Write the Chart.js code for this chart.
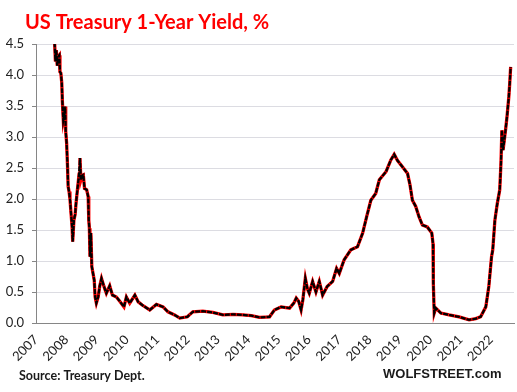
<!DOCTYPE html>
<html>
<head>
<meta charset="utf-8">
<script src="https://cdn.jsdelivr.net/npm/chart.js@4"></script>
<style>
html, body { margin: 0; padding: 0; background: #fff; }
</style>
</head>
<body>
<canvas id="chart" width="517" height="392"></canvas>
<script>
// 1-year treasury yield (x = decimal year)
const years = [
  2007.00, 2007.30, 2007.58, 2007.62, 2007.64, 2007.67, 2007.70, 2007.74, 2007.77, 2007.79,
  2007.82, 2007.85, 2007.87, 2007.90, 2007.93, 2007.96, 2007.98, 2008.01, 2008.04, 2008.06,
  2008.09, 2008.12, 2008.15, 2008.19, 2008.21, 2008.25, 2008.29, 2008.32, 2008.37, 2008.42,
  2008.45, 2008.48, 2008.52, 2008.56, 2008.60, 2008.67, 2008.72, 2008.74, 2008.76, 2008.78,
  2008.81, 2008.84, 2008.92, 2008.95, 2008.99, 2009.05, 2009.10, 2009.16, 2009.24, 2009.32,
  2009.43, 2009.52, 2009.65, 2009.78, 2009.90, 2009.98, 2010.09, 2010.26, 2010.37, 2010.50,
  2010.75, 2010.97, 2011.19, 2011.35, 2011.57, 2011.74, 2011.99, 2012.17, 2012.50, 2012.83,
  2013.16, 2013.50, 2013.82, 2014.10, 2014.37, 2014.70, 2014.86, 2015.08, 2015.36, 2015.50,
  2015.58, 2015.66, 2015.74, 2015.80, 2015.88, 2015.95, 2016.01, 2016.12, 2016.23, 2016.34,
  2016.45, 2016.60, 2016.78, 2016.91, 2017.00, 2017.16, 2017.38, 2017.60, 2017.77, 2017.90,
  2018.04, 2018.20, 2018.32, 2018.54, 2018.70, 2018.81, 2018.92, 2019.08, 2019.25, 2019.33,
  2019.41, 2019.52, 2019.63, 2019.74, 2019.90, 2020.05, 2020.09, 2020.10, 2020.13, 2020.18,
  2020.35, 2020.62, 2020.95, 2021.28, 2021.50, 2021.66, 2021.83, 2021.93, 2022.02, 2022.06,
  2022.13, 2022.21, 2022.29, 2022.33, 2022.36, 2022.40, 2022.48, 2022.53, 2022.59, 2022.62,
  2022.65
];
const yields = [
  5.00, 4.95, 4.90, 4.45, 4.22, 4.40, 4.15, 4.30, 4.32, 4.05,
  4.03, 3.87, 3.57, 3.27, 3.35, 3.49, 3.09, 2.90, 2.52, 2.20,
  2.12, 2.00, 1.80, 1.55, 1.31, 1.66, 1.75, 1.93, 2.17, 2.40,
  2.66, 2.31, 2.38, 2.39, 2.17, 2.15, 2.04, 1.66, 1.53, 1.07,
  1.45, 0.91, 0.69, 0.42, 0.32, 0.42, 0.59, 0.72, 0.59, 0.48,
  0.60, 0.45, 0.42, 0.34, 0.26, 0.42, 0.32, 0.45, 0.34, 0.29,
  0.21, 0.30, 0.26, 0.18, 0.13, 0.08, 0.10, 0.18, 0.19, 0.17,
  0.13, 0.14, 0.13, 0.12, 0.09, 0.10, 0.21, 0.26, 0.24, 0.32,
  0.40, 0.35, 0.21, 0.38, 0.72, 0.55, 0.48, 0.67, 0.50, 0.67,
  0.45, 0.59, 0.67, 0.88, 0.80, 1.02, 1.18, 1.23, 1.45, 1.71,
  1.98, 2.09, 2.31, 2.44, 2.63, 2.72, 2.62, 2.52, 2.41, 2.23,
  1.98, 1.88, 1.71, 1.58, 1.55, 1.45, 1.28, 0.64, 0.16, 0.24,
  0.16, 0.13, 0.10, 0.05, 0.07, 0.10, 0.26, 0.59, 1.07, 1.18,
  1.66, 1.93, 2.15, 2.58, 3.11, 2.79, 3.11, 3.33, 3.65, 3.87,
  4.13
];
const yearTicks = [2007, 2008, 2009, 2010, 2011, 2012, 2013, 2014, 2015, 2016, 2017, 2018, 2019, 2020, 2021, 2022];

const titleText = 'US Treasury 1-Year Yield, %';
const sourceText = 'Source: Treasury Dept.';
const brandText = 'WOLFSTREET.com';

const points = years.map((x, i) => ({x: x, y: yields[i]}));

// title and footer are drawn straight onto the canvas
const textPlugin = {
  id: 'texts',
  afterDraw(chart){
    const ctx = chart.ctx;
    ctx.save();
    ctx.textBaseline = 'alphabetic';
    ctx.fillStyle = '#ff0000';
    ctx.font = 'bold 20px Lato';
    ctx.fillText(titleText, 25, 29);
    ctx.fillStyle = '#1a1a1a';
    ctx.font = 'bold 12.5px Lato';
    ctx.fillText(sourceText, 19, 380);
    ctx.font = 'bold 13px "Liberation Sans"';
    ctx.fillText(brandText, 383, 378);
    ctx.restore();
  }
};

Chart.defaults.font.family = 'Lato';

new Chart(document.getElementById('chart').getContext('2d'), {
  type: 'line',
  data: {
    datasets: [
      {data: points, borderColor: '#000000', borderWidth: 2.3, borderDash: [5, 1], pointRadius: 0, tension: 0},
      {data: points, borderColor: '#ff0000', borderWidth: 3.3, pointRadius: 0, tension: 0}
    ]
  },
  options: {
    responsive: false,
    animation: false,
    layout: {padding: {left: 0, top: 44, right: 3, bottom: 29}},
    plugins: {legend: {display: false}, tooltip: {enabled: false}, title: {display: false}},
    scales: {
      x: {
        type: 'linear',
        min: 2007,
        max: 2022.76,
        afterBuildTicks: s => { s.ticks = yearTicks.map(v => ({value: v})); },
        afterFit: s => { s.height = 40; s.paddingLeft = 0; s.paddingRight = 0; },
        grid: {display: false, drawTicks: false},
        border: {color: '#868686', width: 1},
        ticks: {
          autoSkip: false, minRotation: 45, maxRotation: 45, padding: 9,
          color: '#222', font: {size: 13},
          callback: v => String(v)
        }
      },
      y: {
        min: 0,
        max: 4.5,
        afterFit: s => { s.width = 36; },
        grid: {color: '#dcdce2', tickColor: '#868686', tickLength: 4},
        border: {color: '#868686', width: 1},
        ticks: {stepSize: 0.5, padding: 8, color: '#222', font: {size: 13}, callback: v => v.toFixed(1)}
      }
    }
  },
  plugins: [textPlugin]
});
</script>
</body>
</html>
